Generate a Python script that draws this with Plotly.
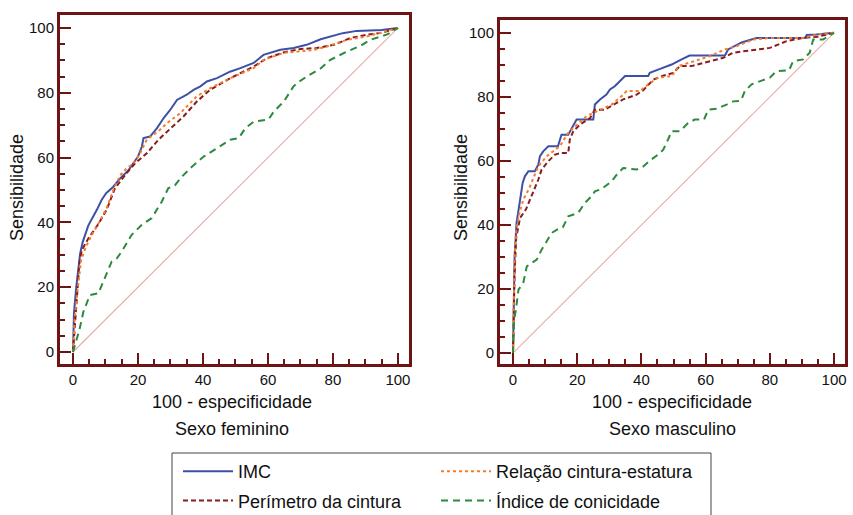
import plotly.graph_objects as go

W, H = 853, 515

# ---------------- data ----------------
series_names = ["IMC", "Perímetro da cintura", "Relação cintura-estatura", "Índice de conicidade"]

# Sexo feminino
fem_imc_x = [0, 0.3, 1, 2.2, 3, 4.7, 7.3, 8.8, 10.2, 12.4, 14.5, 17, 20, 21.2, 21.7, 23.7, 25.8, 27.9, 29.9, 32, 35,
             37.1, 39.2, 41.2, 44.3, 48.3, 51.5, 55.6, 58.6, 63.8, 67.9, 71.9, 76.2, 79.1, 83, 87.3, 95, 100]
fem_imc_y = [0, 12, 20, 30.4, 34, 39, 43.8, 46.9, 49, 51, 53.6, 56, 60.3, 63.4, 66, 66.5, 69, 72.2, 74.7, 77.8, 79.4,
             80.9, 82, 83.5, 84.5, 86.5, 87.6, 89.2, 91.7, 93.3, 93.8, 94.8, 96.5, 97.3, 98.4, 99.1, 99.4, 100]

fem_pc_x = [0, 1, 1.95, 2.7, 4.7, 7.8, 10.4, 12.9, 16.5, 19.1, 22.7, 26.3, 29.9, 34, 38.1, 42.2, 48.4, 55.6, 59.7,
            65, 70, 75, 80.3, 85.4, 90.5, 95, 100]
fem_pc_y = [0, 15, 27.3, 31.4, 35, 39.5, 44, 50.5, 55.2, 58.2, 61.3, 65.5, 69, 72.7, 77.3, 80.9, 84.5, 88.1, 90.7,
            92.5, 93.5, 93.8, 94.8, 96.9, 97.9, 98.5, 100]

fem_rce_x = [0, 0.5, 1.5, 2.5, 4, 6, 8.3, 10.4, 12.4, 14.5, 16.5, 18.6, 20.5, 22.7, 26.8, 28.9, 33, 36, 38.1, 42.2,
             48.4, 55.6, 58.6, 64.9, 74, 78.2, 84.2, 90.5, 94.5, 100]
fem_rce_y = [0, 10, 20, 28.4, 32.5, 36.5, 40.5, 44.5, 50, 54.5, 56.7, 58.2, 61, 65.5, 68.6, 70.6, 73.7, 76.8, 78.9,
             81.4, 84.5, 87.6, 90.1, 92.3, 93.2, 94.3, 96.3, 97.4, 98.4, 100]

fem_ic_x = [0, 0.6, 2, 3.2, 5.2, 7.8, 9.8, 11.9, 13.5, 15, 18, 21.1, 24.2, 27.3, 29.3, 31.4, 33.5, 36.6, 40.2, 44.3,
            48.4, 51, 53, 55.6, 58.6, 60.2, 61.8, 64.9, 67.8, 69, 71.9, 76.2, 79.1, 84.2, 88.5, 91.4, 96.7, 100]
fem_ic_y = [0, 2.2, 7, 12.4, 17.6, 18.1, 22.7, 27.9, 28.9, 31, 36.1, 39.2, 41.3, 46.4, 50.5, 51.5, 54.1, 57.2, 60.3,
            62.9, 65.5, 66, 69, 71.1, 71.6, 71.8, 74.2, 77.3, 81.9, 83, 85, 87.5, 90.1, 92.7, 94.5, 96.3, 98, 100]

# Sexo masculino
mas_imc_x = [0, 0.2, 0.5, 1.1, 2.2, 3, 3.7, 4.8, 6.8, 7.9, 8.4, 9.4, 11, 14, 15.1, 17.2, 19.8, 25, 25.5, 27.1, 29.1,
             30.2, 31.7, 33.3, 34.9, 42.1, 42.6, 45.2, 49.4, 52.5, 55, 66, 67, 71.2, 75.8, 90.9, 91.5, 94.5, 100]
mas_imc_y = [0, 12, 30.2, 40.6, 47.4, 53.1, 55.2, 56.8, 56.8, 58.9, 61.5, 63, 64.6, 64.6, 68.2, 68.2, 72.9, 72.9,
             77.6, 79.2, 80.7, 82.3, 83.3, 84.9, 86.5, 86.5, 87.5, 88.5, 90.1, 91.7, 92.9, 92.9, 94.8, 97, 98.4, 98.4,
             99.3, 99.5, 100]

mas_pc_x = [0, 0.5, 1, 2.2, 4, 5.8, 7.9, 8.9, 11, 13.1, 15.1, 17.2, 17.7, 18.8, 20.9, 24, 25.5, 28.5, 31.2, 34.3,
            38.5, 40.5, 43.7, 46.5, 49.9, 52, 55.6, 61.3, 65.5, 68.6, 75.3, 80, 85.2, 90.4, 95, 100]
mas_pc_y = [0, 25, 36, 42.2, 44.8, 49, 54.2, 57.3, 59.9, 62, 62.5, 62.5, 66.7, 69.3, 71.4, 73.4, 76, 76, 77.6, 79.2,
            80.7, 82, 85.4, 86.5, 87.5, 89.6, 89.6, 91.1, 92.2, 93.8, 94.8, 95.3, 97.4, 98.4, 98.8, 100]

mas_rce_x = [0, 0.2, 0.5, 1, 2, 3.2, 5.1, 6.8, 7.9, 10.5, 14.6, 17, 19.3, 22.9, 27.1, 30.7, 33.8, 35.4, 39.5, 42.1,
             45.2, 49.5, 51.5, 56.1, 61.3, 66, 69.6, 74.8, 80, 90.4, 95, 100]
mas_rce_y = [0, 14, 30, 38, 43.7, 47.9, 51.6, 55.7, 58.3, 61.5, 64.6, 68.5, 70.8, 74, 76, 77.6, 80.2, 81.8, 81.8,
             83.9, 86, 86.5, 89.6, 91.1, 92.7, 94.8, 95.8, 97.9, 98.4, 98.4, 99.5, 100]

mas_ic_x = [0, 0.3, 0.9, 1.7, 3.2, 4.3, 7.4, 8.9, 10.5, 12, 13.6, 15.5, 17.2, 20.3, 22.4, 24.5, 25.5, 27.5, 30.7,
            32.3, 34.3, 38.5, 40.6, 42.5, 45.2, 46.8, 48.3, 49.4, 52, 54.6, 56.6, 59.5, 60.8, 63.5, 66.5, 68.6, 71,
            72.2, 74.3, 76.9, 80, 82, 86, 87.2, 90.4, 92.4, 93.5, 96.5, 100]
mas_ic_y = [0, 10, 13.5, 19.8, 21.9, 27.1, 29.2, 32.3, 34.9, 37.5, 38.5, 39.2, 42.7, 43.8, 46.9, 49, 50.5, 51.2,
            53.6, 55.7, 57.8, 57.3, 58.3, 60, 62, 63.5, 66.7, 69.3, 69.3, 71.9, 72.9, 72.9, 76, 76.3, 77.6, 78.6,
            78.8, 81.8, 83.9, 84.9, 86, 88, 88.3, 91.1, 91.7, 93.8, 97.9, 97.9, 100]

ref_x = [0, 100]
ref_y = [0, 100]

tick_vals = [0, 20, 40, 60, 80, 100]
tick_text = ["0", "20", "40", "60", "80", "100"]

x_title = "100 - especificidade"
y_title = "Sensibilidade"
panel_titles = ["Sexo feminino", "Sexo masculino"]

# ---------------- styles ----------------
colors = ["#3d50a6", "#8b1c1c", "#f57c2c", "#2c8a3c"]
dashes = ["solid", "5px,3px", "dot", "7px,5px"]
legend_ids = ["legend", "legend", "legend2", "legend2"]
frame_col = "#6e1414"
FONT = "Liberation Sans, Arial, Helvetica, sans-serif"

def px_x(p):
    return p / W

def px_y(p):
    return 1 - p / H

fig = go.Figure()

panels = [
    ("x", "y", [(fem_imc_x, fem_imc_y), (fem_pc_x, fem_pc_y), (fem_rce_x, fem_rce_y), (fem_ic_x, fem_ic_y)]),
    ("x2", "y2", [(mas_imc_x, mas_imc_y), (mas_pc_x, mas_pc_y), (mas_rce_x, mas_rce_y), (mas_ic_x, mas_ic_y)]),
]

for pi, (xa, ya, data) in enumerate(panels):
    fig.add_trace(go.Scatter(x=ref_x, y=ref_y, mode="lines", xaxis=xa, yaxis=ya,
                             line=dict(color="#e6aca6", width=1.1), showlegend=False, hoverinfo="skip"))
    for si, (xs, ys) in enumerate(data):
        fig.add_trace(go.Scatter(
            x=xs, y=ys, mode="lines", xaxis=xa, yaxis=ya, name=series_names[si],
            line=dict(color=colors[si], width=2, dash=dashes[si]),
            showlegend=(pi == 0), legend=legend_ids[si], legendgroup=series_names[si],
        ))

axis_common = dict(
    showgrid=False, zeroline=False, showline=True, linecolor=frame_col, linewidth=3, mirror=True,
    ticks="inside", ticklen=11, tickwidth=2, tickcolor=frame_col,
    tickvals=tick_vals, ticktext=tick_text,
    tickfont=dict(family=FONT, size=15, color="#111"),
    minor=dict(dtick=5, tick0=0, ticks="inside", ticklen=5, tickwidth=2, tickcolor=frame_col),
    fixedrange=True, automargin=False,
)

fig.update_layout(
    width=W, height=H,
    margin=dict(l=0, r=0, t=0, b=0, autoexpand=False),
    paper_bgcolor="white", plot_bgcolor="white",
    font=dict(family=FONT, size=18, color="#111"),
    xaxis=dict(domain=[px_x(60), px_x(409)], range=[-4.0, 103.4], anchor="y", **axis_common),
    yaxis=dict(domain=[px_y(364), px_y(15)], range=[-3.7, 104.0], anchor="x", **axis_common),
    xaxis2=dict(domain=[px_x(500), px_x(845)], range=[-4.05, 103.4], anchor="y2", **axis_common),
    yaxis2=dict(domain=[px_y(364), px_y(20)], range=[-3.4, 104.0], anchor="x2", **axis_common),
    legend=dict(x=px_x(178), y=px_y(453), xanchor="left", yanchor="top", orientation="v",
                bgcolor="rgba(0,0,0,0)", borderwidth=0, font=dict(family=FONT, size=18, color="#111"),
                itemwidth=50, tracegroupgap=3),
    legend2=dict(x=px_x(436), y=px_y(453), xanchor="left", yanchor="top", orientation="v",
                 bgcolor="rgba(0,0,0,0)", borderwidth=0, font=dict(family=FONT, size=18, color="#111"),
                 itemwidth=50, tracegroupgap=3),
    shapes=[dict(type="rect", xref="paper", yref="paper", x0=px_x(172), x1=px_x(711), y0=px_y(530), y1=px_y(453),
                 line=dict(color="#444", width=1), fillcolor="rgba(0,0,0,0)", layer="above")],
)

annots = []
for cx in (17, 461):
    annots.append(dict(text=y_title, x=px_x(cx), y=px_y(188), xref="paper", yref="paper", showarrow=False,
                       textangle=-90, font=dict(size=18), xanchor="center", yanchor="middle"))
for cx, pt in ((232, panel_titles[0]), (672, panel_titles[1])):
    annots.append(dict(text=x_title, x=px_x(cx), y=px_y(402), xref="paper", yref="paper", showarrow=False,
                       font=dict(size=18), xanchor="center", yanchor="middle"))
    annots.append(dict(text=pt, x=px_x(cx), y=px_y(429), xref="paper", yref="paper", showarrow=False,
                       font=dict(size=18), xanchor="center", yanchor="middle"))
fig.update_layout(annotations=annots)

fig.write_html("out.html", config={"displayModeBar": False},
               post_script="document.body.style.margin='0';document.body.style.overflow='hidden';")
